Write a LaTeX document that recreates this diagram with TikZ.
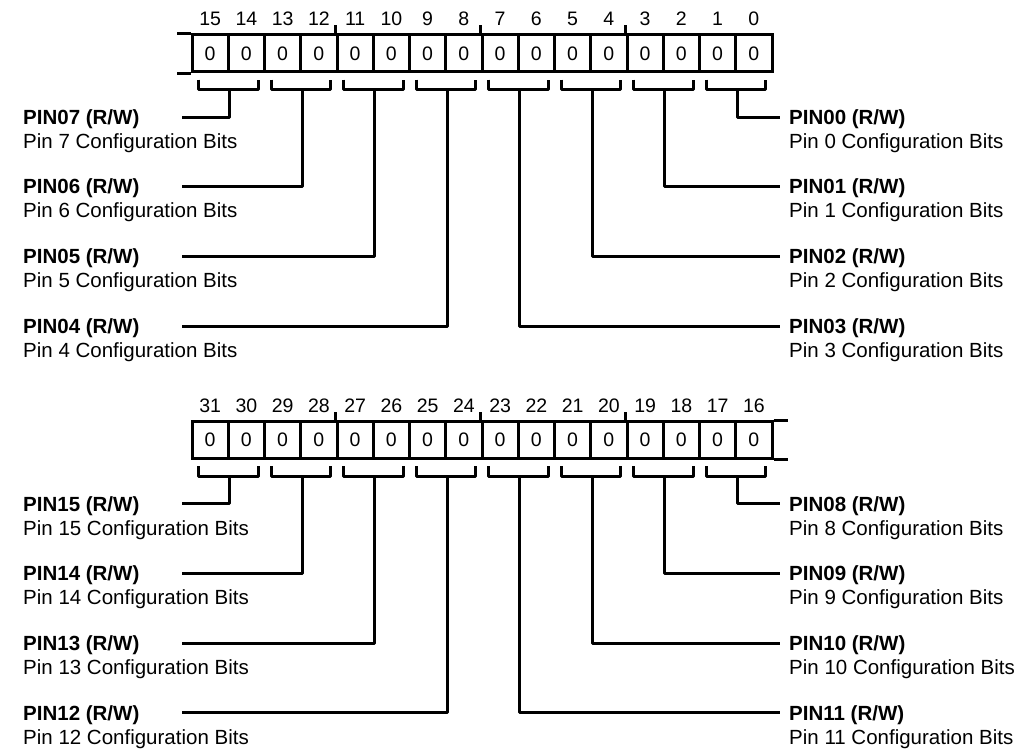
\documentclass[tikz,border=0pt]{standalone}
\usepackage{fontspec}
\setmainfont{Liberation Sans}
\usetikzlibrary{calc}
\begin{document}
\begin{tikzpicture}[x=1pt,y=-1pt,
  regline/.style={line width=3pt},
  cellbox/.style={draw,line width=3pt,minimum width=36.25pt,minimum height=36.7pt,inner sep=0pt,font=\fontsize{19.5}{22}\selectfont},
  bitnum/.style={inner sep=0pt,font=\fontsize{19.5}{22}\selectfont},
  conn/.style={line width=3pt,line join=round},
  pinlabel/.style={inner sep=0pt,anchor=base west,font=\fontsize{20.5}{24}\selectfont}]
\useasboundingbox (0,0) rectangle (1024,752);
% register cells and bit numbers
\foreach \b in {0,...,31} {
  \pgfmathtruncatemacro\row{\b<16 ? 0 : 1}
  \pgfmathtruncatemacro\i{\row==0 ? 15-\b : 31-\b}
  \pgfmathsetmacro\cx{192+36.25*\i+18.125}
  \pgfmathsetmacro\oy{\row*386.7}
  \node[cellbox] (c\b) at (\cx,53.35+\oy) {0};
  \node[bitnum] (n\b) at (\cx,19+\oy) {\b};
}
% open ends of the register rows
\draw[regline] (c15.north west) -- ++(-14,0);
\draw[regline] (c15.south west) -- ++(-14,0);
\draw[regline] (c16.north east) -- ++(14,0);
\draw[regline] (c16.south east) -- ++(14,0);
% nibble ticks
\foreach \b in {11,7,3,27,23,19}
  \draw[regline] (c\b.north west) -- ++(0,-8.5);
% brackets, leaders and labels
\foreach \p in {0,...,15} {
  \pgfmathtruncatemacro\hi{2*\p+1}
  \pgfmathtruncatemacro\lo{2*\p}
  \pgfmathtruncatemacro\row{\p<8 ? 0 : 1}
  \pgfmathtruncatemacro\q{\p-8*\row}
  \pgfmathtruncatemacro\lev{\q<4 ? \q : 7-\q}
  \pgfmathsetmacro\ly{117+69.67*\lev+386.7*\row}
  \pgfmathsetmacro\ex{\q<4 ? 780 : 182}
  \pgfmathsetmacro\lx{\q<4 ? 789 : 23}
  \draw[conn] ($(c\hi.south west)+(8,6.3)$) -- ++(0,10) -| ($(c\lo.south east)+(-8,6.3)$);
  \coordinate (s\p) at ($(c\hi.south east)+(0,16.3)$);
  \coordinate (e\p) at (\ex,\ly);
  \node[pinlabel] (l\p) at (\lx,\ly+7.3) {\begin{tabular}[t]{@{}l@{}}\textbf{PIN\ifnum\p<10 0\fi\p\ (R/W)}\\Pin \p\ Configuration Bits\end{tabular}};
  \draw[conn] (s\p) |- (e\p);
}
\end{tikzpicture}
\end{document}
